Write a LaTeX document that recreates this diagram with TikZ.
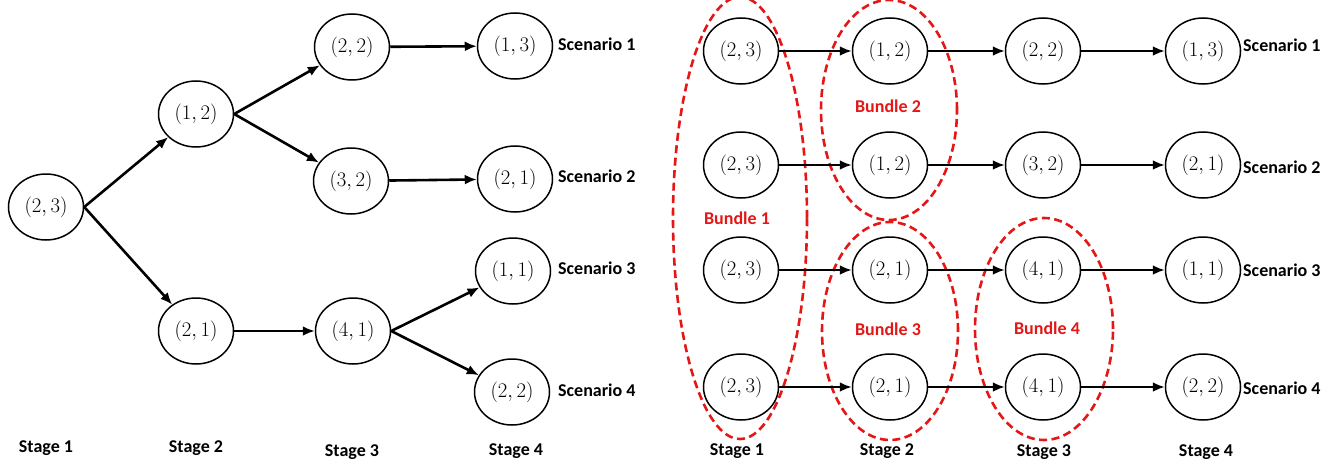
\documentclass[tikz,border=0pt]{standalone}
\usepackage{fontspec}
\newfontfamily\labfont{Carlito}
\usetikzlibrary{shapes.geometric,arrows.meta}
\definecolor{bred}{RGB}{228,22,22}
\begin{document}
\begin{tikzpicture}[x=1pt,y=-1pt,
 st/.style={draw, line width=1.5pt, ellipse, minimum width=75pt, minimum height=66pt, inner sep=0pt, font=\fontsize{21}{24}\selectfont},
 arr/.style={line width=2.6pt, -{Latex[length=12pt,width=10pt]}},
 lab/.style={font=\labfont\bfseries\fontsize{18}{21}\selectfont, inner sep=0pt},
 bundle/.style={draw=bred, ellipse, line width=2.6pt, dash pattern=on 8pt off 4.5pt, inner sep=0pt},
 blab/.style={lab, text=bred}]
\useasboundingbox (0,0) rectangle (1336,460);

% ---------------- left tree ----------------
\node[st] (A)  at (46,207)  {$(2,3)$};
\node[st] (B1) at (196,114) {$(1,2)$};
\node[st] (B2) at (196,331) {$(2,1)$};
\node[st] (C1) at (352,47)  {$(2,2)$};
\node[st] (C2) at (351,181) {$(3,2)$};
\node[st] (C3) at (353,331) {$(4,1)$};
\node[st] (D1) at (515,46)  {$(1,3)$};
\node[st] (D2) at (515,179) {$(2,1)$};
\node[st] (D3) at (513,271) {$(1,1)$};
\node[st] (D4) at (512,392) {$(2,2)$};

\draw[arr] (A.east) -- (B1);
\draw[arr] (A.east) -- (B2);
\draw[arr] (B1.east) -- (C1);
\draw[arr] (B1.east) -- (C2);
\draw[arr] (B2) -- (C3);
\draw[arr] (C1) -- (D1);
\draw[arr] (C2) -- (D2);
\draw[arr] (C3.east) -- (D3);
\draw[arr] (C3.east) -- (D4);

\node[lab, anchor=west] (sL1) at (558,44)  {Scenario 1};
\node[lab, anchor=west] (sL2) at (558,176) {Scenario 2};
\node[lab, anchor=west] (sL3) at (558,268) {Scenario 3};
\node[lab, anchor=west] (sL4) at (558,390) {Scenario 4};

\node[lab] (tL1) at (46,448)  {Stage 1};
\node[lab] (tL2) at (196,448) {Stage 2};
\node[lab] (tL3) at (352,452) {Stage 3};
\node[lab] (tL4) at (516,451) {Stage 4};

% ---------------- right tree ----------------
\node[bundle, minimum width=134pt, minimum height=442pt] (U1) at (740,218) {};
\node[bundle, minimum width=136pt, minimum height=220pt] (U2) at (889,110) {};
\node[bundle, minimum width=136pt, minimum height=218pt] (U3) at (890,331) {};
\node[bundle, minimum width=138pt, minimum height=222pt] (U4) at (1044,329) {};

\foreach \r/\y/\a/\b/\c/\d in {1/51/{(2,3)}/{(1,2)}/{(2,2)}/{(1,3)},
                               2/165/{(2,3)}/{(1,2)}/{(3,2)}/{(2,1)},
                               3/270/{(2,3)}/{(2,1)}/{(4,1)}/{(1,1)},
                               4/387/{(2,3)}/{(2,1)}/{(4,1)}/{(2,2)}}{
  \node[st] (R\r a) at (741,\y)  {$\a$};
  \node[st] (R\r b) at (890,\y)  {$\b$};
  \node[st] (R\r c) at (1043,\y) {$\c$};
  \node[st] (R\r d) at (1203,\y) {$\d$};
  \draw[arr] (R\r a) -- (R\r b);
  \draw[arr] (R\r b) -- (R\r c);
  \draw[arr] (R\r c) -- (R\r d);
}

\node[lab, anchor=west] (sR1) at (1243,45)  {Scenario 1};
\node[lab, anchor=west] (sR2) at (1243,167) {Scenario 2};
\node[lab, anchor=west] (sR3) at (1243,270) {Scenario 3};
\node[lab, anchor=west] (sR4) at (1243,388) {Scenario 4};

\node[blab] (bl1) at (737,218)  {Bundle 1};
\node[blab] (bl2) at (888,106)  {Bundle 2};
\node[blab] (bl3) at (888,329)  {Bundle 3};
\node[blab] (bl4) at (1047,328) {Bundle 4};

\node[lab] (tR1) at (737,451)  {Stage 1};
\node[lab] (tR2) at (887,451)  {Stage 2};
\node[lab] (tR3) at (1044,452) {Stage 3};
\node[lab] (tR4) at (1206,452) {Stage 4};
\end{tikzpicture}
\end{document}
